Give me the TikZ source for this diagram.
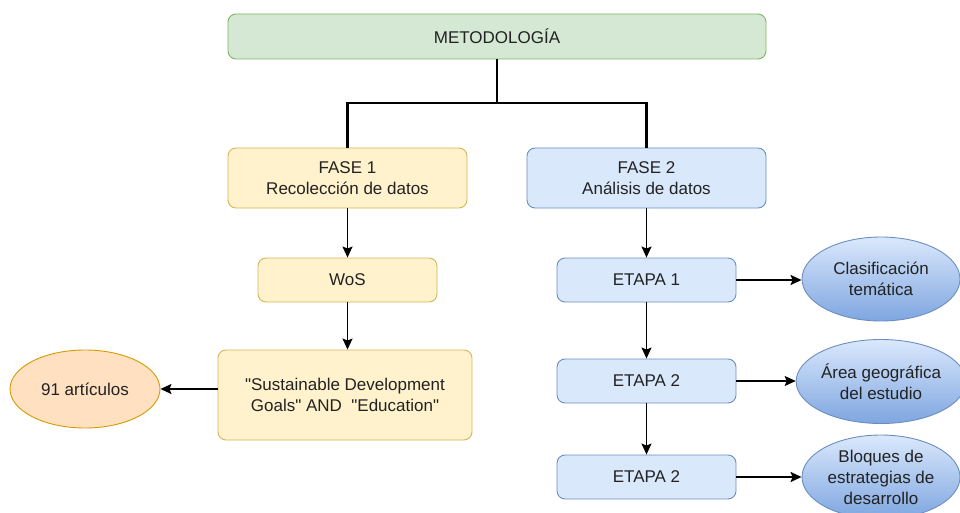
\documentclass[tikz,border=0pt]{standalone}
\usepackage{fontspec}
\newfontfamily\arial{Liberation Sans}
\usetikzlibrary{arrows.meta,shapes.geometric}
\definecolor{gfill}{HTML}{D5E8D4}
\definecolor{gline}{HTML}{82B366}
\definecolor{yfill}{HTML}{FFF2CC}
\definecolor{yline}{HTML}{D6B656}
\definecolor{bfill}{HTML}{DAE8FC}
\definecolor{bline}{HTML}{6C8EBF}
\definecolor{bdark}{HTML}{7EA6E0}
\definecolor{ofill}{HTML}{FFE0C0}
\definecolor{oline}{HTML}{D79B00}
\definecolor{txt}{HTML}{222222}
\tikzset{
  base/.style={rounded corners=8pt, line width=0.9pt, inner sep=0pt, align=center,
    font=\arial\fontsize{17}{21}\selectfont, text=txt},
  gbox/.style={base, draw=gline, fill=gfill},
  ybox/.style={base, draw=yline, fill=yfill},
  bbox/.style={base, draw=bline, fill=bfill},
  bell/.style={ellipse, draw=bline, line width=0.9pt, top color=bfill, bottom color=bdark,
    inner sep=0pt, align=center, font=\arial\fontsize{17}{21}\selectfont, text=txt,
    minimum width=158pt, minimum height=84pt},
  oell/.style={ellipse, draw=oline, line width=0.9pt, fill=ofill,
    inner sep=0pt, align=center, font=\arial\fontsize{17}{21}\selectfont, text=txt,
    minimum width=150pt, minimum height=78pt},
  tree/.style={line width=2.4pt, draw=black},
  arr/.style={line width=1.6pt, -{Stealth[length=11pt,width=10pt,inset=2pt]}},
}
\begin{document}
\begin{tikzpicture}[x=1pt,y=-1pt]
\useasboundingbox (0,0) rectangle (960,513);
\node[gbox, minimum width=538pt, minimum height=45pt] (met) at (497,36.5) {METODOLOGÍA};
\node[ybox, minimum width=239pt, minimum height=60pt] (f1) at (347.5,178) {FASE 1\\Recolección de datos};
\node[bbox, minimum width=239pt, minimum height=60pt] (f2) at (646.5,178) {FASE 2\\Análisis de datos};
\node[ybox, minimum width=179pt, minimum height=44pt] (wos) at (347.5,280) {WoS};
\node[ybox, minimum width=254pt, minimum height=90pt] (sdg) at (345,395) {"Sustainable Development\\Goals" AND\ \ "Education"};
\node[oell] (art) at (85,389) {91 artículos};
\node[bbox, minimum width=179pt, minimum height=44pt] (e1) at (646.5,280) {ETAPA 1};
\node[bbox, minimum width=179pt, minimum height=44pt] (e2) at (646.5,381) {ETAPA 2};
\node[bbox, minimum width=179pt, minimum height=44pt] (e3) at (646.5,477) {ETAPA 2};
\node[bell] (c1) at (881,279) {Clasificación\\temática};
\node[bell] (c2) at (881,381.5) {Área geográfica\\del estudio};
\node[bell] (c3) at (881,477) {Bloques de\\estrategias de\\desarrollo};
\coordinate (j) at (497,103);
\draw[tree] (met.south) -- (j);
\draw[tree] (f1.north) |- (j) -| (f2.north);
\draw[arr] (f1) -- (wos);
\draw[arr] (wos.south) -- (wos.south |- sdg.north);
\draw[arr] (sdg.west |- art) -- (art);
\draw[arr] (f2) -- (e1);
\draw[arr] (e1) -- (e2);
\draw[arr] (e2) -- (e3);
\draw[arr] (e1.east) -- (e1.east -| c1.west);
\draw[arr] (e2.east) -- (e2.east -| c2.west);
\draw[arr] (e3.east) -- (e3.east -| c3.west);
\end{tikzpicture}
\end{document}
